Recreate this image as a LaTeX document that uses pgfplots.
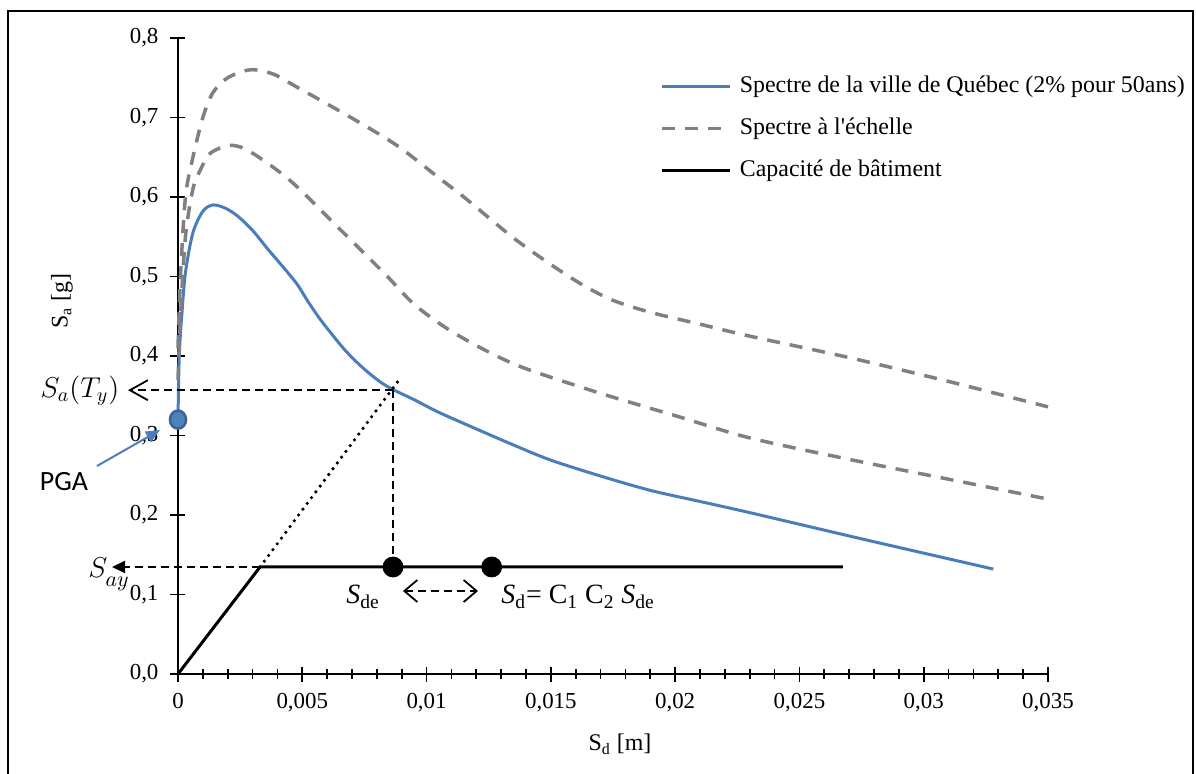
\documentclass[border=0pt]{standalone}
\usepackage{fontspec}
\setmainfont{Liberation Serif}
\newfontfamily\calibri{Carlito}
\usepackage{pgfplots}
\pgfplotsset{compat=1.18}
\usetikzlibrary{arrows.meta}
\definecolor{specblue}{HTML}{4A7EBB}
\definecolor{specgray}{HTML}{808080}
\definecolor{pgafill}{HTML}{4F81BD}
\definecolor{pgadraw}{HTML}{3A6496}

\pgfplotstableread{
x y
0 0.32
0.00005 0.40
0.00015 0.45
0.0003 0.505
0.0006 0.555
0.001 0.582
0.0014 0.590
0.0019 0.586
0.0024 0.576
0.003 0.558
0.0036 0.535
0.0042 0.513
0.0048 0.490
0.0052 0.470
0.0057 0.447
0.0062 0.427
0.0067 0.408
0.0072 0.392
0.0077 0.378
0.0082 0.366
0.0087 0.357
0.0095 0.345
0.0105 0.329
0.0118 0.311
0.0135 0.288
0.015 0.269
0.017 0.249
0.019 0.231
0.021 0.217
0.023 0.203
0.0275 0.170
0.0328 0.132
}\blueSpec

\pgfplotstableread{
x y
0 0.41
0.0001 0.50
0.0003 0.60
0.0006 0.650
0.001 0.700
0.0014 0.731
0.002 0.750
0.0029 0.760
0.0038 0.755
0.0048 0.738
0.0069 0.701
0.0088 0.665
0.0105 0.624
0.0115 0.600
0.0125 0.574
0.0136 0.546
0.0150 0.515
0.0163 0.489
0.0175 0.470
0.019 0.455
0.021 0.440
0.023 0.425
0.027 0.398
0.031 0.368
0.035 0.336
}\grayUpper

\pgfplotstableread{
x y
0 0.37
0.0001 0.45
0.0003 0.55
0.0006 0.610
0.0009 0.634
0.0013 0.655
0.0021 0.665
0.0029 0.657
0.0045 0.621
0.0064 0.563
0.0083 0.504
0.0095 0.465
0.0109 0.433
0.0125 0.405
0.014 0.384
0.017 0.353
0.020 0.325
0.023 0.297
0.027 0.270
0.031 0.245
0.035 0.220
}\grayLower

\pgfplotstableread{
x y
0 0
0.0033 0.1346
0.02675 0.1346
}\capacity

\begin{document}
\begin{tikzpicture}
\useasboundingbox (-89bp,-50bp) rectangle (509bp,337bp);
\draw[line width=1.2bp] (-85bp,-60bp) -- (-85bp,331.5bp) -- (507.5bp,331.5bp) -- (507.5bp,-60bp);
\begin{axis}[
  at={(0,0)}, anchor=south west, scale only axis,
  width=435bp, height=318bp,
  xmin=0, xmax=0.035, ymin=0, ymax=0.8,
  axis lines*=left,
  axis line style={line width=1.4bp, black},
  clip=false,
  scaled x ticks=false, scaled y ticks=false,
  xtick={0,0.005,0.01,0.015,0.02,0.025,0.03,0.035},
  xticklabels={{0},{0,005},{0,01},{0,015},{0,02},{0,025},{0,03},{0,035}},
  minor x tick num=4,
  ytick={0,0.1,0.2,0.3,0.4,0.5,0.6,0.7,0.8},
  yticklabels={{0,0},{0,1},{0,2},{0,3},{0,4},{0,5},{0,6},{0,7},{0,8}},
  tick align=center,
  major tick length=7.5bp, minor tick length=5bp,
  tick style={black, line width=0.9bp},
  xticklabel style={font=\fontsize{11.5}{13}\selectfont, yshift=-2.5bp},
  yticklabel style={font=\fontsize{11.5}{13}\selectfont, xshift=-2.5bp},
  xlabel={S\textsubscript{d} [m]},
  xlabel style={at={(axis cs:0.017782,-0.08805)}, anchor=center, font=\fontsize{12}{14}\selectfont},
  legend style={draw=none, fill=none, at={(axis cs:0.01939,0.6862)}, anchor=west,
    font=\fontsize{12}{14}\selectfont, row sep=9bp, column sep=4bp, inner sep=0pt,
    nodes={inner sep=0pt, text height=9bp, text depth=3bp}},
  legend cell align=left,
  legend image code/.code={\draw[#1] (0bp,0bp) -- (34bp,0bp);},
]
\addplot[specblue, line width=1.5bp, smooth] table {\blueSpec};
\addlegendentry{Spectre de la ville de Québec (2\% pour 50ans)}
\addplot[specgray, line width=1.75bp, dash pattern=on 6.5bp off 5bp, smooth] table {\grayUpper};
\addlegendentry{Spectre à l\textquotesingle échelle}
\addplot[specgray, line width=1.75bp, dash pattern=on 6.5bp off 5bp, smooth, forget plot] table {\grayLower};
\addplot[black, line width=1.5bp] table {\capacity};
\addlegendentry{Capacité de bâtiment}

% annotations
\draw[black, line width=1.8bp, line cap=round, dash pattern=on 0bp off 3.6bp] (axis cs:0.0033,0.1346) -- (axis cs:0.00887,0.369);
\draw[black, line width=0.9bp, dash pattern=on 4bp off 2.5bp] (axis cs:0.00865,0.357) -- (axis cs:0.00865,0.1346);
\draw[black, line width=0.9bp, dash pattern=on 4bp off 2.5bp, -{Straight Barb[length=9bp,width=10bp]}] (axis cs:0.00865,0.357) -- (axis cs:-0.00201,0.357);
\draw[black, line width=0.9bp, dash pattern=on 4bp off 2.5bp, -{Triangle[length=6.5bp,width=6bp]}] (axis cs:0.0033,0.1346) -- (axis cs:-0.002655,0.1346);
\draw[black, line width=0.9bp, dash pattern=on 4bp off 2.5bp, {Straight Barb[length=6.5bp,width=11bp]}-{Straight Barb[length=6.5bp,width=11bp]}] (axis cs:0.00905,0.1044) -- (axis cs:0.01207,0.1044);
\draw[specblue, line width=1bp, -{Triangle[length=7bp,width=6bp]}] (axis cs:-0.003259,0.2616) -- (axis cs:-0.000724,0.3069);

\addplot[only marks, mark=*, mark size=5bp, black, forget plot] coordinates {(0.00865,0.1346) (0.01262,0.1346)};
\addplot[only marks, mark=*, mark size=4.5bp, mark options={xscale=0.89, fill=pgafill, draw=pgadraw, line width=1.3bp}, forget plot] coordinates {(0,0.32)};

\node[rotate=90, anchor=center, font=\fontsize{12}{14}\selectfont] at (axis cs:-0.004667,0.4692) {S\textsubscript{a} [g]};
\node[anchor=center, font=\fontsize{14}{16}\selectfont] at (axis cs:-0.003943,0.356) {$S_a(T_y)$};
\node[anchor=base west, inner sep=0pt, font=\fontsize{15}{17}\selectfont] at (axis cs:-0.003621,0.1208) {$S_{\lower2bp\hbox{$\scriptstyle ay$}}$};
\node[anchor=center, font=\calibri\fontsize{14}{16}\selectfont] at (axis cs:-0.004586,0.2415) {PGA};
\node[anchor=base west, inner sep=0pt, font=\fontsize{14}{16}\selectfont] at (axis cs:0.006759,0.0881) {\textit{S}\textsubscript{de}};
\node[anchor=base west, inner sep=0pt, font=\fontsize{14}{16}\selectfont] at (axis cs:0.012994,0.0881) {\textit{S}\textsubscript{d}= C\textsubscript{1} C\textsubscript{2} \textit{S}\textsubscript{de}};
\end{axis}
\end{tikzpicture}
\end{document}
